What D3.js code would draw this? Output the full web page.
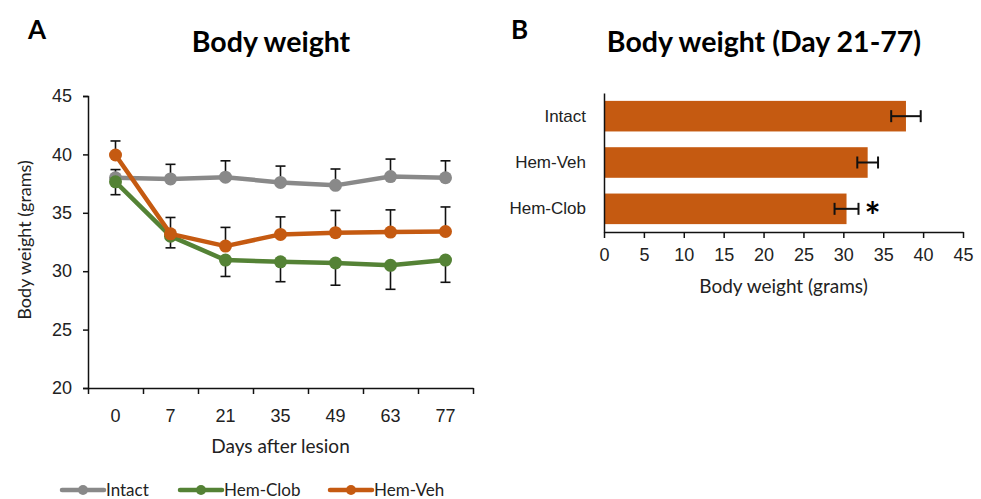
<!DOCTYPE html>
<html>
<head>
<meta charset="utf-8">
<script src="https://cdn.jsdelivr.net/npm/d3@7"></script>
<style>
  body { margin: 0; background: #fff; }
  svg { display: block; font-family: Lato, "Open Sans", sans-serif; }
</style>
</head>
<body>
<svg width="981" height="499"></svg>
<script>
// panel A data
const days = ["0", "7", "21", "35", "49", "63", "77"];
const intactMean = [38.0, 37.9, 38.05, 37.6, 37.35, 38.1, 38.0];
const intactErr = [0.7, 1.25, 1.4, 1.4, 1.4, 1.5, 1.45];
const clobMean = [37.65, 33.0, 30.95, 30.8, 30.7, 30.5, 30.95];
const clobErr = [1.1, 1.0, 1.4, 1.7, 1.9, 2.05, 1.9];
const vehMean = [39.95, 33.2, 32.15, 33.15, 33.3, 33.35, 33.4];
const vehErr = [1.2, 1.4, 1.6, 1.5, 1.9, 1.9, 2.1];

// panel B data
const groups = ["Intact", "Hem-Veh", "Hem-Clob"];
const groupMean = [37.85, 33.05, 30.4];
const groupErr = [1.85, 1.3, 1.5];

const gray = "#898989";
const green = "#548235";
const orange = "#C55A11";

const series = [
    {name: "Intact", mean: intactMean, err: intactErr, color: gray, dir: 1},
    {name: "Hem-Clob", mean: clobMean, err: clobErr, color: green, dir: -1},
    {name: "Hem-Veh", mean: vehMean, err: vehErr, color: orange, dir: 1},
];

const svg = d3.select("svg");

// ---------- Panel A ----------
const ax = {left: 88, right: 473, top: 96, bottom: 388};

const x = d3.scaleBand().domain(days).range([ax.left, ax.right]).padding(0);
const xEdge = d3.scaleLinear().domain([0, days.length]).range([ax.left, ax.right]);
const y = d3.scaleLinear().domain([20, 45]).range([ax.bottom, ax.top]);

const gA = svg.append("g");

gA.append("g")
    .attr("transform", `translate(${ax.left},0)`)
    .call(d3.axisLeft(y).tickValues(d3.range(20, 46, 5)).tickSize(5).tickPadding(11))
    .call(g => g.selectAll("text").style("font-size", "18px").attr("fill", "#222"));

gA.append("g")
    .attr("transform", `translate(0,${ax.bottom})`)
    .call(d3.axisBottom(xEdge).tickValues(d3.range(days.length + 1)).tickFormat("").tickSize(6).tickSizeOuter(0));

gA.append("g")
    .attr("transform", `translate(0,${ax.bottom})`)
    .call(d3.axisBottom(x).tickSize(0).tickPadding(21))
    .call(g => g.select(".domain").remove())
    .call(g => g.selectAll("text").style("font-size", "18px").attr("fill", "#222"));

gA.selectAll(".domain, .tick line").attr("stroke", "#111").attr("stroke-width", 1.5);

gA.append("text")
    .attr("x", (ax.left + ax.right) / 2)
    .attr("y", 453)
    .attr("text-anchor", "middle")
    .style("font-size", "19px")
    .attr("fill", "#222")
    .text("Days after lesion");

gA.append("text")
    .attr("transform", `translate(31,${(ax.top + ax.bottom) / 2 - 2}) rotate(-90)`)
    .attr("text-anchor", "middle")
    .style("font-size", "18px")
    .attr("fill", "#222")
    .text("Body weight (grams)");

const cx = d => x(d) + x.bandwidth() / 2;

// error bars (one-sided)
series.forEach(s => {
    const eb = gA.append("g").attr("stroke", "#111").attr("stroke-width", 1.6);
    days.forEach((d, i) => {
        const y0 = y(s.mean[i]);
        const y1 = y(s.mean[i] + s.dir * s.err[i]);
        eb.append("line").attr("x1", cx(d)).attr("x2", cx(d)).attr("y1", y0).attr("y2", y1);
        eb.append("line").attr("x1", cx(d) - 5).attr("x2", cx(d) + 5).attr("y1", y1).attr("y2", y1);
    });
});

const line = d3.line().x((v, i) => cx(days[i])).y(v => y(v));

series.forEach(s => {
    gA.append("path")
        .attr("d", line(s.mean))
        .attr("fill", "none")
        .attr("stroke", s.color)
        .attr("stroke-width", 4.5)
        .attr("stroke-linejoin", "round");
    gA.selectAll(null)
        .data(s.mean)
        .enter()
        .append("circle")
        .attr("cx", (v, i) => cx(days[i]))
        .attr("cy", v => y(v))
        .attr("r", 6.5)
        .attr("fill", s.color);
});

// legend
const legendX = [62, 180, 330];
series.forEach((s, i) => {
    const lg = gA.append("g").attr("transform", `translate(${legendX[i]},490)`);
    lg.append("line").attr("x1", 0).attr("x2", 42).attr("y1", 0).attr("y2", 0)
        .attr("stroke", s.color).attr("stroke-width", 4.5).attr("stroke-linecap", "round");
    lg.append("circle").attr("cx", 21).attr("cy", 0).attr("r", 5).attr("fill", s.color);
    lg.append("text").attr("x", 44).attr("y", 0).attr("dy", "0.35em")
        .style("font-size", "17px").attr("fill", "#222").text(s.name);
});

gA.append("text").attr("x", 28).attr("y", 39)
    .style("font-size", "26px").style("font-weight", 700).text("A");
gA.append("text").attr("x", 271).attr("y", 52).attr("text-anchor", "middle")
    .style("font-size", "28.5px").style("font-weight", 700).text("Body weight");

// ---------- Panel B ----------
const bx = {left: 604, right: 963, top: 93, bottom: 232};

const xb = d3.scaleLinear().domain([0, 45]).range([bx.left, bx.right]);
const yb = d3.scaleBand().domain(groups).range([bx.top, bx.bottom]).paddingInner(0.34).paddingOuter(0.17);

const gB = svg.append("g");

gB.selectAll("rect.bar")
    .data(groups)
    .enter()
    .append("rect")
    .attr("class", "bar")
    .attr("x", xb(0))
    .attr("y", d => yb(d))
    .attr("width", (d, i) => xb(groupMean[i]) - xb(0))
    .attr("height", yb.bandwidth())
    .attr("fill", orange);

const ebB = gB.append("g").attr("stroke", "#111").attr("stroke-width", 2);
groups.forEach((g, i) => {
    const cy = yb(g) + yb.bandwidth() / 2;
    const lo = xb(groupMean[i] - groupErr[i]);
    const hi = xb(groupMean[i] + groupErr[i]);
    ebB.append("line").attr("x1", lo).attr("x2", hi).attr("y1", cy).attr("y2", cy);
    ebB.append("line").attr("x1", lo).attr("x2", lo).attr("y1", cy - 6).attr("y2", cy + 6);
    ebB.append("line").attr("x1", hi).attr("x2", hi).attr("y1", cy - 6).attr("y2", cy + 6);
});

gB.append("g")
    .attr("transform", `translate(0,${bx.bottom})`)
    .call(d3.axisBottom(xb).tickValues(d3.range(0, 46, 5)).tickSize(6).tickSizeOuter(0).tickPadding(10))
    .call(g => g.selectAll("text").style("font-size", "18px").attr("fill", "#222"));

gB.append("g")
    .attr("transform", `translate(${bx.left},0)`)
    .call(d3.axisLeft(yb).tickSize(0).tickPadding(18))
    .call(g => g.selectAll("text").style("font-size", "17px").attr("fill", "#222"));

gB.selectAll(".domain, .tick line").attr("stroke", "#111").attr("stroke-width", 1.5);

gB.append("text")
    .attr("x", (bx.left + bx.right) / 2)
    .attr("y", 293)
    .attr("text-anchor", "middle")
    .style("font-size", "19px")
    .attr("fill", "#222")
    .text("Body weight (grams)");

// significance mark
gB.append("text")
    .attr("x", xb(groupMean[2] + groupErr[2]) + 14)
    .attr("y", yb("Hem-Clob") + yb.bandwidth() / 2)
    .attr("dy", "0.55em")
    .attr("text-anchor", "middle")
    .style("font-size", "38px")
    .style("font-weight", 700)
    .text("*");

gB.append("text").attr("x", 511).attr("y", 39)
    .style("font-size", "26px").style("font-weight", 700).text("B");
gB.append("text").attr("x", 764).attr("y", 52).attr("text-anchor", "middle")
    .style("font-size", "28.5px").style("font-weight", 700).text("Body weight (Day 21-77)");
</script>
</body>
</html>
